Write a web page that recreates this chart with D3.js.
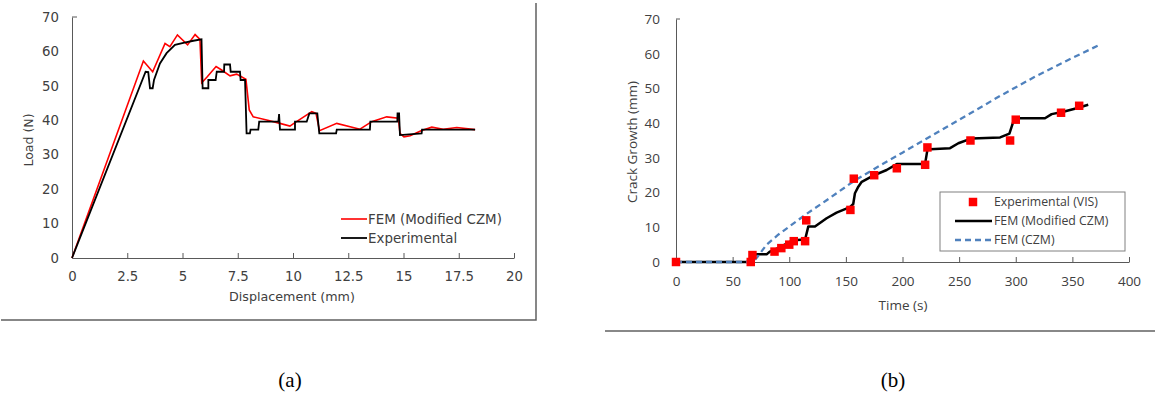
<!DOCTYPE html>
<html>
<head>
<meta charset="utf-8">
<script src="https://cdn.jsdelivr.net/npm/d3@7"></script>
<style>
  body { margin: 0; background: #fff; }
  svg { display: block; }
  .axis path, .axis line { stroke: #595959; }
  .left text { font-family: "DejaVu Sans", sans-serif; fill: #404040; }
  .right text { font-family: "Open Sans", sans-serif; fill: #404040; }
</style>
</head>
<body>
<div id="chart"></div>
<script>
// (a) load vs displacement
const femLoad = [
  [0, 0], [3.23, 57.2], [3.65, 54.1], [4.21, 62.3], [4.43, 61.4], [4.77, 64.8], [5.23, 61.9],
  [5.57, 64.9], [5.79, 63.5], [5.87, 50.9], [6.1, 52.5], [6.52, 55.6], [6.77, 54.6], [7.15, 52.9],
  [7.45, 53.4], [7.87, 51.9], [8.02, 43], [8.2, 41], [8.81, 40.1], [9.41, 39.1], [9.86, 38.3],
  [10.09, 39.3], [10.85, 42.5], [11.04, 42], [11.2, 37], [11.98, 39.1], [13.03, 37.4], [13.56, 39.6],
  [14.24, 41], [14.77, 40.6], [14.84, 36.2], [15.02, 35.2], [15.3, 35.5], [15.82, 37], [16.28, 38],
  [16.8, 37.4], [17.41, 37.9], [18.24, 37.3]
];
const expLoad = [
  [0, 0], [3.33, 54.1], [3.45, 54], [3.53, 49.3], [3.65, 49.3], [3.71, 51.7], [3.98, 56.5],
  [4.28, 59.5], [4.66, 61.9], [5.04, 62.5], [5.49, 63.1], [5.86, 63.5], [5.91, 49.3], [6.17, 49.3],
  [6.17, 51.7], [6.5, 51.7], [6.55, 54.1], [6.88, 54.1], [6.89, 56.2], [7.15, 56.2], [7.18, 54.1],
  [7.6, 54.1], [7.63, 51.7], [7.83, 51.7], [7.9, 36.2], [8.05, 36.2], [8.08, 37.3], [8.43, 37.3],
  [8.47, 39.6], [9.34, 39.6], [9.37, 41.8], [9.41, 37.3], [10.09, 37.3], [10.09, 39.6], [10.62, 39.6],
  [10.74, 42], [11.1, 42], [11.19, 36.2], [11.95, 36.2], [11.98, 37.3], [13.48, 37.3], [13.5, 39.6],
  [14.72, 39.6], [14.73, 42], [14.8, 42], [14.84, 35.7], [15.82, 36.2], [15.84, 37.3], [18.24, 37.3]
];
const dispTicks = [0, 2.5, 5, 7.5, 10, 12.5, 15, 17.5, 20];
const loadTicks = [0, 10, 20, 30, 40, 50, 60, 70];

// (b) crack growth vs time
const visPoints = [
  [0, 0], [66, 0], [67.5, 2], [87, 3], [93, 4], [100, 5], [104, 6], [114, 6], [115, 12],
  [154, 15], [157, 24], [175, 25], [195, 27], [220, 28], [222, 33], [260, 35], [295, 35],
  [300, 41], [340, 43], [356, 45]
];
const femModCrack = [
  [0, 0], [68, 0], [70, 2.2], [80, 2.2], [83, 3], [90, 4], [96, 5], [103.6, 6.3], [114, 6.5],
  [116.8, 10.2], [122.7, 10.2], [133, 12.6], [141.8, 14.2], [153.6, 15.8], [156.5, 16.7],
  [158, 19.8], [161, 21.7], [164, 23.1], [174.2, 24.9], [186, 26.5], [194.9, 28.2], [219.9, 28.2],
  [222, 32.3], [224.3, 32.5], [242, 32.8], [249.3, 34.2], [261.1, 35.6], [286.2, 35.9],
  [294.4, 37], [298.5, 41.1], [300.8, 41.4], [325.8, 41.4], [331.7, 42.6], [342, 43.3],
  [353.8, 44.3], [364, 45.3]
];
const czmCrack = [
  [0, 0], [68, 0], [72, 1.5], [80, 5], [90, 7.8], [100, 10.2], [115, 13.8], [133, 17.8],
  [157, 23.3], [175, 26.8], [200, 31.5], [227, 36.6], [257, 42.3], [286, 47.8], [316, 53.2],
  [345, 58], [375, 62.7]
];
const timeTicks = [0, 50, 100, 150, 200, 250, 300, 350, 400];
const crackTicks = [0, 10, 20, 30, 40, 50, 60, 70];

const svg = d3.select('#chart').append('svg')
    .attr('width', 1155)
    .attr('height', 396);

// panel frames
svg.append('path')
    .attr('d', 'M1,320H536V3')
    .attr('fill', 'none').attr('stroke', '#606060').attr('stroke-width', 1.5);
svg.append('line')
    .attr('x1', 605).attr('x2', 1155).attr('y1', 331).attr('y2', 331)
    .attr('stroke', '#606060').attr('stroke-width', 1.5);

// ---------- chart (a) ----------
const ga = svg.append('g').attr('class', 'left');
const xa = d3.scaleLinear().domain([0, 20]).range([72, 514]);
const ya = d3.scaleLinear().domain([0, 70]).range([258, 17]);

ga.append('g').attr('class', 'axis')
    .attr('transform', 'translate(0,258)')
    .call(d3.axisBottom(xa).tickValues(dispTicks).tickFormat(d3.format('~g'))
        .tickSizeInner(-5).tickSizeOuter(0).tickPadding(14))
    .call(g => g.selectAll('text').attr('font-size', 13.3));
ga.append('g').attr('class', 'axis')
    .attr('transform', 'translate(72,0)')
    .call(d3.axisLeft(ya).tickValues(loadTicks).tickSize(0).tickPadding(13))
    .call(g => g.selectAll('text').attr('font-size', 13.3));
ga.append('line').attr('x1', 72).attr('x2', 77).attr('y1', ya(70)).attr('y2', ya(70))
    .attr('stroke', '#595959');

const lineA = d3.line().x(d => xa(d[0])).y(d => ya(d[1]));
ga.append('path').datum(femLoad).attr('d', lineA)
    .attr('fill', 'none').attr('stroke', '#ff0000').attr('stroke-width', 1.6);
ga.append('path').datum(expLoad).attr('d', lineA)
    .attr('fill', 'none').attr('stroke', '#000').attr('stroke-width', 1.8);

ga.append('text').attr('x', 292).attr('y', 301).attr('text-anchor', 'middle')
    .attr('font-size', 12.7).text('Displacement (mm)');
ga.append('text').attr('transform', 'translate(33,140) rotate(-90)').attr('text-anchor', 'middle')
    .attr('font-size', 12.5).text('Load (N)');

// legend (a)
const legA = [['FEM (Modified CZM)', '#ff0000', 1.6], ['Experimental', '#000', 1.8]];
legA.forEach((d, i) => {
  const y = 219 + i * 19;
  ga.append('line').attr('x1', 341).attr('x2', 367).attr('y1', y).attr('y2', y)
      .attr('stroke', d[1]).attr('stroke-width', d[2]);
  ga.append('text').attr('x', 368).attr('y', y + 5).attr('font-size', 13.4).text(d[0]);
});

// ---------- chart (b) ----------
const gb = svg.append('g').attr('class', 'right');
const xb = d3.scaleLinear().domain([0, 400]).range([676, 1129]);
const yb = d3.scaleLinear().domain([0, 70]).range([262, 19]);

gb.append('g').attr('class', 'axis')
    .attr('transform', 'translate(0,262)')
    .call(d3.axisBottom(xb).tickValues(timeTicks).tickSizeInner(-5).tickSizeOuter(0).tickPadding(14))
    .call(g => g.selectAll('text').attr('font-size', 13.5));
gb.append('g').attr('class', 'axis')
    .attr('transform', 'translate(676,0)')
    .call(d3.axisLeft(yb).tickValues(crackTicks).tickSize(0).tickPadding(16))
    .call(g => g.selectAll('text').attr('font-size', 13.5));
gb.append('line').attr('x1', 676).attr('x2', 680).attr('y1', yb(70)).attr('y2', yb(70))
    .attr('stroke', '#595959');

const lineB = d3.line().x(d => xb(d[0])).y(d => yb(d[1]));
gb.append('path').datum(femModCrack).attr('d', lineB)
    .attr('fill', 'none').attr('stroke', '#000').attr('stroke-width', 2.5)
    .attr('stroke-linejoin', 'round');
gb.append('path').datum(czmCrack).attr('d', lineB)
    .attr('fill', 'none').attr('stroke', '#4f81bd').attr('stroke-width', 2.3)
    .attr('stroke-dasharray', '6,4');

const square = d3.symbol().type(d3.symbolSquare).size(72);
gb.selectAll('.vis').data(visPoints).join('path')
    .attr('class', 'vis')
    .attr('d', square)
    .attr('transform', d => `translate(${xb(d[0])},${yb(d[1])})`)
    .attr('fill', '#ff0000');

gb.append('text').attr('x', 903).attr('y', 310).attr('text-anchor', 'middle')
    .attr('font-size', 13.5).text('Time (s)');
gb.append('text').attr('transform', 'translate(637,142) rotate(-90)').attr('text-anchor', 'middle')
    .attr('font-size', 13.5).text('Crack Growth (mm)');

// legend (b)
gb.append('rect').attr('x', 940).attr('y', 192).attr('width', 185).attr('height', 59)
    .attr('fill', '#fff').attr('stroke', '#808080').attr('stroke-width', 1);
gb.append('path').attr('d', square).attr('transform', 'translate(973,202)').attr('fill', '#ff0000');
gb.append('line').attr('x1', 955).attr('x2', 992).attr('y1', 221).attr('y2', 221)
    .attr('stroke', '#000').attr('stroke-width', 2.5);
gb.append('line').attr('x1', 955).attr('x2', 992).attr('y1', 240).attr('y2', 240)
    .attr('stroke', '#4f81bd').attr('stroke-width', 2.3).attr('stroke-dasharray', '6,4');
['Experimental (VIS)', 'FEM (Modified CZM)', 'FEM (CZM)'].forEach((t, i) => {
  gb.append('text').attr('x', 994).attr('y', 206 + i * 19).attr('font-size', 12.3).text(t);
});

// captions
svg.append('text').attr('x', 290).attr('y', 387).attr('text-anchor', 'middle')
    .attr('font-family', '"Liberation Serif", serif').attr('font-size', 21).attr('fill', '#000').text('(a)');
svg.append('text').attr('x', 893).attr('y', 387).attr('text-anchor', 'middle')
    .attr('font-family', '"Liberation Serif", serif').attr('font-size', 21).attr('fill', '#000').text('(b)');
</script>
</body>
</html>
